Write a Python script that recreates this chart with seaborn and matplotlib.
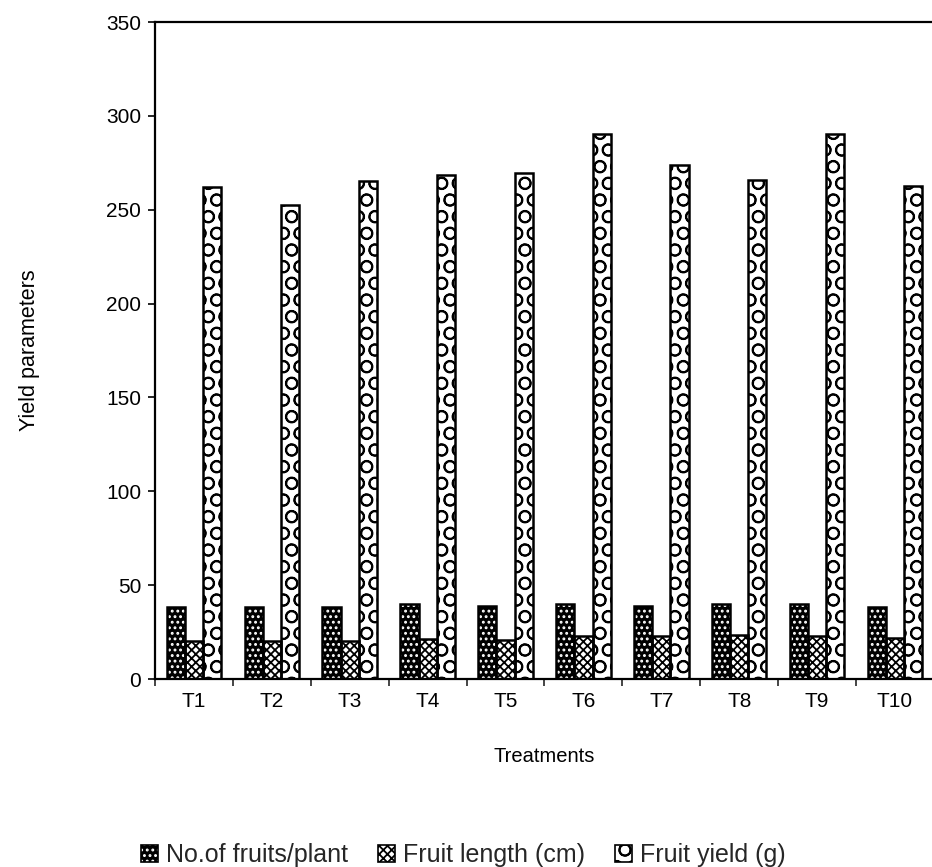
import matplotlib
matplotlib.use("Agg")
import matplotlib.pyplot as plt
from matplotlib.patches import Rectangle
import seaborn as sns
import pandas as pd

treatments = ["T1", "T2", "T3", "T4", "T5", "T6", "T7", "T8", "T9", "T10"]
fruits_per_plant = [38.2, 38.2, 38.4, 40.0, 39.0, 40.0, 38.9, 40.0, 40.0, 38.5]
fruit_length_cm = [20.2, 20.0, 20.0, 21.1, 20.8, 22.9, 22.9, 23.3, 22.9, 22.0]
fruit_yield_g = [262.3, 252.5, 265.1, 268.3, 269.4, 290.2, 273.7, 266.0, 290.5, 262.8]
series_names = ["No.of fruits/plant", "Fruit length (cm)", "Fruit yield (g)"]
y_ticks = [0, 50, 100, 150, 200, 250, 300, 350]

df = pd.DataFrame({
    "Treatment": treatments * 3,
    "Series": [series_names[0]] * 10 + [series_names[1]] * 10 + [series_names[2]] * 10,
    "Value": fruits_per_plant + fruit_length_cm + fruit_yield_g,
})

sns.set_theme(style="white")
plt.rcParams["font.family"] = ["Liberation Sans", "DejaVu Sans"]
plt.rcParams["hatch.linewidth"] = 1.3

fig = plt.figure(figsize=(9.32, 8.67), dpi=100)
ax = fig.add_axes([0.1663, 0.2168, 0.8358, 0.7578])

sns.barplot(data=df, x="Treatment", y="Value", hue="Series", order=treatments,
            hue_order=series_names, width=0.7, gap=0.0, ax=ax,
            palette=["black", "white", "white"], edgecolor="black",
            linewidth=1.5, legend=False, saturation=1)

# pattern per series: (face, hatch colour, hatch)
styles = [("black", "white", "..."), ("white", "black", "xxxx"), ("white", "black", "O")]
for cont, (fc, hc, hatch) in zip(ax.containers, styles):
    for bar in cont:
        bar.set_facecolor(fc)
        bar.set_edgecolor(hc)
        bar.set_hatch(hatch)
        bar.set_linewidth(0)
        ax.add_patch(Rectangle(bar.get_xy(), bar.get_width(), bar.get_height(),
                               fill=False, edgecolor="black", linewidth=1.8, zorder=3))

ax.set_xlim(-0.5, 9.5)
ax.set_ylim(0, 350)
ax.set_yticks(y_ticks)
ax.set_xticks(range(len(treatments)))
ax.set_xticklabels(treatments)
ax.set_xticks([i - 0.5 for i in range(len(treatments) + 1)], minor=True)
ax.tick_params(axis="x", which="major", length=0, pad=9, labelsize=15, colors="black")
ax.tick_params(axis="x", which="minor", length=5, width=1.2, direction="out", bottom=True)
ax.tick_params(axis="y", length=5, width=1.2, direction="out", left=True, pad=5,
               labelsize=15, colors="black")

for side in ["left", "top", "bottom"]:
    ax.spines[side].set_visible(True)
    ax.spines[side].set_color("black")
    ax.spines[side].set_linewidth(1.6)
ax.spines["right"].set_visible(False)

ax.set_xlabel("Treatments", fontsize=14.5, color="black")
ax.xaxis.set_label_coords(0.5, -0.104)
ax.set_ylabel("Yield parameters", fontsize=15.5, color="black")
ax.yaxis.set_label_coords(-0.148, 0.5)

# legend keys: hatched fill with a black outline on top
handles = [(Rectangle((0, 0), 1, 1, facecolor=fc, edgecolor=hc, hatch=h, linewidth=0),
            Rectangle((0, 0), 1, 1, fill=False, edgecolor="black", linewidth=1.2))
           for fc, hc, h in styles]
fig.legend(handles, series_names, loc="center", bbox_to_anchor=(0.497, 1 - 855 / 867),
           ncol=3, frameon=False, fontsize=18, handlelength=0.7, handleheight=0.7,
           handletextpad=0.3, columnspacing=1.2)

fig.savefig("out.png", dpi=100, facecolor="white")
